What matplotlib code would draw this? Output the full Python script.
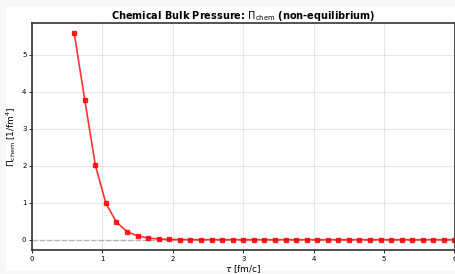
import numpy as np
import matplotlib
matplotlib.use("Agg")
import matplotlib.pyplot as plt
from matplotlib.patches import Rectangle

# ---- Data ----
tau = [0.60, 0.75, 0.90, 1.05, 1.20, 1.35, 1.50, 1.65, 1.80, 1.95,
       2.10, 2.25, 2.40, 2.55, 2.70, 2.85, 3.00, 3.15, 3.30, 3.45,
       3.60, 3.75, 3.90, 4.05, 4.20, 4.35, 4.50, 4.65, 4.80, 4.95,
       5.10, 5.25, 5.40, 5.55, 5.70, 5.85, 6.00]
pi_chem = [5.58, 3.77, 2.01, 0.98, 0.47, 0.22, 0.10, 0.045, 0.018, 0.007,
           0.003, 0.001, 0.0005, 0.0002, 0.0001, 0.0, 0.0, 0.0, 0.0, 0.0,
           0.0, 0.0, 0.0, 0.0, 0.0, 0.0, 0.0, 0.0, 0.0, 0.0,
           0.0, 0.0, 0.0, 0.0, 0.0, 0.0, 0.0]
x_ticks = [0, 1, 2, 3, 4, 5, 6]
y_ticks = [0, 1, 2, 3, 4, 5]

W, H = 455, 274
fig = plt.figure(figsize=(W / 100, H / 100), dpi=100, facecolor="#f7f7f7")
# white page area (reference is a crop of a larger figure)
fig.patches.append(Rectangle((6 / W, 3 / H), 1 - 6 / W, 1 - 10 / H,
                             transform=fig.transFigure, facecolor="white",
                             edgecolor="none", zorder=-10))

ax = fig.add_axes([32 / W, 1 - 250 / H, 422.5 / W, 227 / H])
ax.axhline(0, color="gray", ls="--", lw=1.0, alpha=0.5)
ax.plot(tau, pi_chem, color="red", marker="s", ms=3.5, lw=1.2, alpha=0.8)

ax.set_xlim(0, 6)
ax.set_xticks(x_ticks)
ax.set_yticks(y_ticks)
ax.grid(True, alpha=0.3)
ax.tick_params(labelsize=5, length=2, width=0.6, pad=2)
for s in ax.spines.values():
    s.set_linewidth(1.2)
    s.set_color("#333333")

ax.set_title(r"Chemical Bulk Pressure: $\Pi_{\rm chem}$ (non-equilibrium)",
             fontsize=7, fontweight="bold", pad=3)
ax.set_xlabel(r"$\tau$ [fm/c]", fontsize=6.5, labelpad=1)
ax.set_ylabel(r"$\Pi_{\rm chem}$ [1/fm$^4$]", fontsize=6.5, labelpad=3)

fig.savefig("out.png", dpi=100, facecolor=fig.get_facecolor())
